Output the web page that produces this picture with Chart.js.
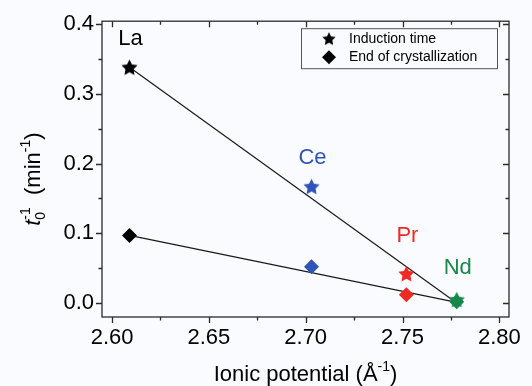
<!DOCTYPE html>
<html>
<head>
<meta charset="utf-8">
<script src="https://cdn.jsdelivr.net/npm/chart.js@4"></script>
<style>
  html, body { margin: 0; padding: 0; background: #fafbfe; }
  #wrap { width: 532px; height: 386px; }
</style>
</head>
<body>
<div id="wrap"><canvas id="grafico"></canvas></div>
<script>
// Datos
const elementos = ['La', 'Ce', 'Pr', 'Nd'];
const potencialIonico = [2.609, 2.703, 2.752, 2.778];
const tiempoInduccion = [0.337, 0.166, 0.041, 0.004];
const finCristalizacion = [0.097, 0.052, 0.012, 0.002];
const colores = ['#000000', '#2f55b8', '#ee2a24', '#17874a'];
// rectas de ajuste (extremos)
const ajusteInduccion = [[2.609, 0.338], [2.778, 0.0]];
const ajusteFin = [[2.609, 0.097], [2.778, 0.001]];
const ticksX = [2.60, 2.65, 2.70, 2.75, 2.80];
const ticksY = [0.0, 0.1, 0.2, 0.3, 0.4];

const FUENTE = '"Liberation Sans", Arial, sans-serif';

// estrella rellena de 5 puntas como pointStyle
function estrella(color, r) {
  const c = document.createElement('canvas');
  c.width = c.height = r * 2 + 2;
  const g = c.getContext('2d');
  g.translate(r + 1, r + 1);
  g.beginPath();
  for (let i = 0; i < 10; i++) {
    const rad = i % 2 === 0 ? r : r * 0.5;
    const a = -Math.PI / 2 + i * Math.PI / 5;
    g.lineTo(rad * Math.cos(a), rad * Math.sin(a));
  }
  g.closePath();
  g.fillStyle = color;
  g.fill();
  return c;
}

const estrellas = colores.map(c => estrella(c, 8.5));

// marco, ticks menores, etiquetas y leyenda
const decorado = {
  id: 'decorado',
  beforeDatasetsDraw(chart) {
    const { ctx, chartArea: a, scales: { x, y } } = chart;
    ctx.save();
    ctx.strokeStyle = '#2a2a2a';
    ctx.lineWidth = 1.3;
    ctx.strokeRect(a.left, a.top, a.right - a.left, a.bottom - a.top);
    ctx.beginPath();
    for (let v = 2.60; v <= 2.801; v += 0.025) {
      const px = Math.round(x.getPixelForValue(v)) + 0.5;
      const major = Math.abs(v * 20 - Math.round(v * 20)) < 1e-6;
      const len = major ? 6 : 3.5;
      ctx.moveTo(px, a.bottom); ctx.lineTo(px, a.bottom + len);
      ctx.moveTo(px, a.top); ctx.lineTo(px, a.top + len);
    }
    for (let v = 0; v <= 0.401; v += 0.05) {
      const py = Math.round(y.getPixelForValue(v)) + 0.5;
      const major = Math.abs(v * 10 - Math.round(v * 10)) < 1e-6;
      const len = major ? 6 : 3.5;
      ctx.moveTo(a.left, py); ctx.lineTo(a.left - len, py);
      ctx.moveTo(a.right, py); ctx.lineTo(a.right - len, py);
    }
    ctx.stroke();
    ctx.restore();
  },
  afterDatasetsDraw(chart) {
    const { ctx, chartArea: a, scales: { x, y } } = chart;
    ctx.save();
    // nombres de los elementos sobre las estrellas
    const desfase = [29, 29, 39, 32];
    ctx.font = '22px ' + FUENTE;
    ctx.textAlign = 'center';
    ctx.textBaseline = 'middle';
    elementos.forEach((el, i) => {
      ctx.fillStyle = colores[i];
      ctx.fillText(el, x.getPixelForValue(potencialIonico[i]) + 1,
        y.getPixelForValue(tiempoInduccion[i]) - desfase[i]);
    });

    // leyenda
    const lx = a.right - 208, ly = a.top + 7;
    ctx.strokeStyle = '#555';
    ctx.lineWidth = 1;
    ctx.strokeRect(lx + 0.5, ly + 0.5, 196, 40);
    ctx.drawImage(estrella('#000', 7), lx + 20, ly + 3);
    ctx.fillStyle = '#000';
    ctx.beginPath();
    ctx.moveTo(lx + 28, ly + 22); ctx.lineTo(lx + 35, ly + 29);
    ctx.lineTo(lx + 28, ly + 36); ctx.lineTo(lx + 21, ly + 29);
    ctx.closePath(); ctx.fill();
    ctx.font = '14px ' + FUENTE;
    ctx.textAlign = 'left';
    ctx.fillText('Induction time', lx + 48, ly + 11);
    ctx.fillText('End of crystallization', lx + 48, ly + 29);

    // titulo eje x
    const partesX = [['Ionic potential (Å', 22, 0], ['-1', 14, -10], [')', 22, 0]];
    escribir(ctx, partesX, (a.left + a.right) / 2, 381);

    // titulo eje y (girado)
    ctx.translate(40, (a.top + a.bottom) / 2 + 10);
    ctx.rotate(-Math.PI / 2);
    ctx.textAlign = 'left';
    ctx.textBaseline = 'alphabetic';
    const wT = (() => { ctx.font = 'italic 22px ' + FUENTE; return ctx.measureText('t').width; })();
    ctx.font = '14px ' + FUENTE;
    const wSup = ctx.measureText('-1').width;
    ctx.font = '22px ' + FUENTE;
    const wMin = ctx.measureText('  (min').width;
    ctx.font = '14px ' + FUENTE;
    const wSup2 = ctx.measureText('-1').width;
    ctx.font = '22px ' + FUENTE;
    const wPar = ctx.measureText(')').width;
    const total = wT + wSup + wMin + wSup2 + wPar;
    let cx = -total / 2;
    ctx.font = 'italic 22px ' + FUENTE;
    ctx.fillText('t', cx, 0);
    cx += wT;
    ctx.font = '14px ' + FUENTE;
    ctx.fillText('0', cx, 5);
    ctx.fillText('-1', cx, -10);
    cx += wSup;
    ctx.font = '22px ' + FUENTE;
    ctx.fillText('  (min', cx, 0);
    cx += wMin;
    ctx.font = '14px ' + FUENTE;
    ctx.fillText('-1', cx, -10);
    cx += wSup2;
    ctx.font = '22px ' + FUENTE;
    ctx.fillText(')', cx, 0);
    ctx.restore();
  }
};

// escribe texto con partes (texto, tamano, desplazamiento vertical) centrado
function escribir(ctx, partes, cx, base) {
  ctx.save();
  ctx.textAlign = 'left';
  ctx.textBaseline = 'alphabetic';
  ctx.fillStyle = '#000';
  let total = 0;
  partes.forEach(p => { ctx.font = p[1] + 'px ' + FUENTE; total += ctx.measureText(p[0]).width; });
  let x = cx - total / 2;
  partes.forEach(p => {
    ctx.font = p[1] + 'px ' + FUENTE;
    ctx.fillText(p[0], x, base + p[2]);
    x += ctx.measureText(p[0]).width;
  });
  ctx.restore();
}

const puntos = (ys) => potencialIonico.map((v, i) => ({ x: v, y: ys[i] }));
const recta = (r) => r.map(p => ({ x: p[0], y: p[1] }));

new Chart(document.getElementById('grafico'), {
  type: 'scatter',
  data: {
    datasets: [
      {
        label: 'Induction time',
        data: puntos(tiempoInduccion),
        pointStyle: estrellas,
        pointRadius: 8.5,
        order: 1
      },
      {
        label: 'End of crystallization',
        data: puntos(finCristalizacion),
        pointStyle: 'rectRot',
        pointRadius: 7.5,
        backgroundColor: colores,
        borderColor: colores,
        borderWidth: 0,
        order: 2
      },
      {
        type: 'line',
        data: recta(ajusteInduccion),
        borderColor: '#1a1a1a',
        borderWidth: 1.2,
        pointRadius: 0,
        order: 3
      },
      {
        type: 'line',
        data: recta(ajusteFin),
        borderColor: '#1a1a1a',
        borderWidth: 1.2,
        pointRadius: 0,
        order: 4
      }
    ]
  },
  options: {
    responsive: true,
    maintainAspectRatio: false,
    animation: false,
    layout: { padding: { top: 18, right: 23, left: 0, bottom: 0 } },
    plugins: { legend: { display: false }, tooltip: { enabled: false } },
    scales: {
      x: {
        type: 'linear',
        min: 2.5948,
        max: 2.805,
        afterBuildTicks: s => { s.ticks = ticksX.map(v => ({ value: v })); },
        afterFit: s => { s.height = 386 - 317; },
        ticks: {
          callback: v => v.toFixed(2),
          font: { size: 22, family: FUENTE },
          color: '#000',
          padding: 8
        },
        grid: { display: false, drawTicks: false },
        border: { display: false }
      },
      y: {
        type: 'linear',
        min: -0.02,
        max: 0.404,
        afterBuildTicks: s => { s.ticks = ticksY.map(v => ({ value: v })); },
        afterFit: s => { s.width = 102; },
        ticks: {
          callback: v => v.toFixed(1),
          font: { size: 22, family: FUENTE },
          color: '#000',
          padding: 8
        },
        grid: { display: false, drawTicks: false },
        border: { display: false }
      }
    }
  },
  plugins: [decorado]
});
</script>
</body>
</html>
